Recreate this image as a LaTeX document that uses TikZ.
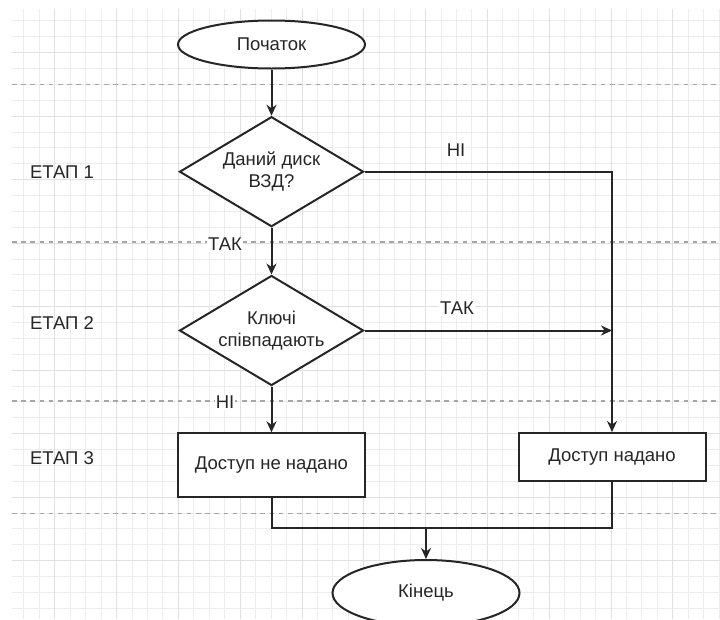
\documentclass[tikz,border=0pt]{standalone}
\usepackage{fontspec}
\setmainfont{Liberation Sans}
\usetikzlibrary{shapes.geometric,arrows.meta,positioning}
\definecolor{gridminor}{HTML}{EDEDED}
\definecolor{gridmajor}{HTML}{E0E0E0}
\definecolor{stagedash}{HTML}{A6A6A6}
\definecolor{ink}{HTML}{262626}
\tikzset{
  terminal/.style={ellipse,draw=ink,fill=white,line width=2pt,minimum width=187pt,inner sep=0pt,text=ink},
  decision/.style={diamond,aspect=1.673,draw=ink,fill=white,line width=2pt,minimum width=184pt,minimum height=110pt,inner sep=0pt,align=center,text=ink},
  action/.style={rectangle,draw=ink,fill=white,line width=2pt,minimum width=187pt,inner sep=0pt,text=ink},
  flow/.style={draw=ink,line width=2pt,-{Stealth[length=11pt,width=10pt]}},
  conn/.style={draw=ink,line width=2pt},
  lbl/.style={fill=white,inner sep=1pt,text=ink},
  stage/.style={inner sep=0pt,text=ink},
  stagedivider/.style={stagedash,line width=1.5pt,dash pattern=on 4.6pt off 4.6pt},
}
\begin{document}
\begin{tikzpicture}[x=1pt,y=-1pt,every node/.style={font=\fontsize{18.5}{22.2}\selectfont}]
\useasboundingbox (0,0) rectangle (720,619);
\fill[white] (0,0) rectangle (720,619);
%background grid
\foreach \i in {0,...,45} \draw[gridminor,line width=1pt] ({23.9+15.45*\i},9) -- ({23.9+15.45*\i},619);
\foreach \j in {0,...,37} \draw[gridminor,line width=1pt] (12,{20.95+15.875*\j}) -- (720,{20.95+15.875*\j});
\foreach \i in {0,...,10} \draw[gridmajor,line width=1pt] ({54.8+61.8*\i},9) -- ({54.8+61.8*\i},619);
\foreach \j in {0,...,8} \draw[gridmajor,line width=1pt] (12,{52.7+63.5*\j}) -- (720,{52.7+63.5*\j});
\foreach \y in {84.5,242,401,513.3} \draw[stagedivider] (12,\y) -- (720,\y);

\node[stage] (stage1) at (62,172.5) {ЕТАП 1};
\node[stage] (stage2) at (62,323.3) {ЕТАП 2};
\node[stage] (stage3) at (62,458.3) {ЕТАП 3};

\node[terminal,minimum height=48pt] (start) at (271.5,44.5) {Початок};
\node[decision] (disk) at (271.5,171.7) {Даний диск\\ВЗД?};
\node[decision] (keys) at (271.5,330.5) {Ключі\\співпадають};
\node[action,minimum height=64pt] (deny) at (271.5,465.3) {Доступ не надано};
\node[action,minimum height=48pt] (grant) at (612,457) {Доступ надано};
\node[terminal,minimum height=66pt] (finish) at (426,593) {Кінець};
\coordinate (merge) at (426,528.3);

\draw[flow] (start) -- (disk);
\draw[flow] (disk.east) -| (grant.north);
\draw[flow] (disk) -- (keys);
\draw[flow] (keys.east) -- (keys.east -| grant.north);
\draw[flow] (keys) -- (deny);
\draw[conn] (deny.south) |- (merge) -| (grant.south);
\draw[flow] (merge) -- (finish);

\node[lbl] (no1) at (456,150) {НІ};
\node[lbl] (yes1) at (225,244) {ТАК};
\node[lbl] (yes2) at (457,308) {ТАК};
\node[lbl] (no2) at (225,402.5) {НІ};
\end{tikzpicture}
\end{document}
